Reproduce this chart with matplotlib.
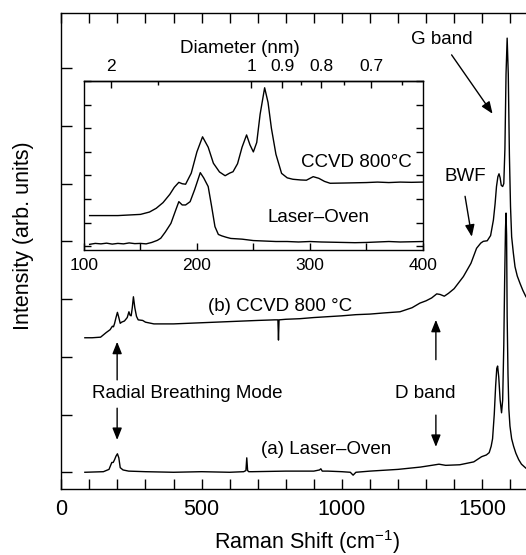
import numpy as np
import matplotlib
matplotlib.use("Agg")
import matplotlib.pyplot as plt
from matplotlib.ticker import MultipleLocator, FixedLocator

plt.rcParams['font.family'] = ['Liberation Sans', 'DejaVu Sans']
plt.rcParams['mathtext.fontset'] = 'custom'
plt.rcParams['mathtext.rm'] = 'Liberation Sans'

# ---------------- main spectra (Raman shift cm-1, intensity arb. units) ----------------
laser_x = [84, 150, 170, 180, 185, 190, 195, 200, 205, 210, 220, 240, 300, 400, 500, 600,
           650, 658, 661, 664, 668, 680, 800, 900, 920, 925, 930, 950, 1000, 1030, 1040,
           1050, 1100, 1200, 1280, 1320, 1346, 1370, 1420, 1470, 1498, 1515, 1525, 1532,
           1537, 1543, 1548, 1552, 1555, 1559, 1564, 1569, 1573, 1577, 1580, 1583, 1585,
           1587, 1589, 1592, 1595, 1599, 1605, 1612, 1620, 1630, 1640, 1656, 1700]
laser_y = [0.00, 0.01, 0.05, 0.17, 0.17, 0.22, 0.28, 0.32, 0.25, 0.08, 0.04, 0.02, 0.01, 0.00,
           0.01, 0.00, 0.01, 0.03, 0.25, 0.03, 0.01, 0.01, 0.02, 0.02, 0.04, 0.06, 0.02, 0.02,
           0.01, 0.00, -0.05, 0.00, 0.02, 0.05, 0.09, 0.12, 0.14, 0.12, 0.13, 0.18, 0.27, 0.30,
           0.34, 0.45, 0.58, 1.00, 1.50, 1.80, 1.84, 1.65, 1.25, 1.03, 1.25, 2.20, 3.30, 4.20,
           4.49, 4.10, 2.70, 1.70, 1.10, 0.80, 0.58, 0.45, 0.33, 0.22, 0.14, 0.07, 0.02]

ccvd_x = [84, 110, 140, 160, 174, 182, 186, 190, 195, 200, 205, 210, 215, 225, 235, 241, 245,
          249, 253, 257, 262, 268, 274, 290, 300, 330, 400, 500, 600, 700, 760, 772, 774, 776,
          800, 850, 900, 1000, 1050, 1100, 1150, 1207, 1250, 1278, 1300, 1320, 1338, 1350,
          1365, 1380, 1400, 1433, 1460, 1480, 1495, 1504, 1518, 1530, 1540, 1546, 1551, 1556,
          1560, 1564, 1568, 1573, 1577, 1581, 1585, 1589, 1593, 1597, 1601, 1605, 1611, 1617,
          1625, 1635, 1645, 1656, 1700]
ccvd_y = [2.33, 2.33, 2.34, 2.42, 2.47, 2.53, 2.52, 2.58, 2.68, 2.77, 2.68, 2.58, 2.60, 2.62,
          2.68, 2.78, 2.72, 2.71, 2.85, 3.04, 2.85, 2.70, 2.64, 2.63, 2.60, 2.57, 2.57, 2.59,
          2.61, 2.63, 2.64, 2.64, 2.29, 2.64, 2.65, 2.66, 2.68, 2.71, 2.73, 2.74, 2.76, 2.78,
          2.85, 2.93, 2.97, 3.02, 3.09, 3.08, 3.05, 3.10, 3.18, 3.39, 3.62, 3.88, 3.97, 4.00,
          4.01, 4.10, 4.37, 4.65, 4.95, 5.12, 5.17, 5.10, 4.97, 4.95, 5.00, 5.60, 6.90, 7.52,
          6.90, 5.50, 4.60, 4.08, 3.80, 3.56, 3.40, 3.27, 3.15, 3.04, 2.80]

# ---------------- inset (RBM region) ----------------
in_ccvd_x = [105, 130, 150, 158, 164, 170, 176, 180, 184, 187, 190, 195, 200, 205, 210, 214.6,
             220, 225, 229, 232, 236, 240, 244, 247, 250, 253, 256, 260, 263, 266, 270, 275,
             280, 285, 292, 297, 303, 308, 313, 318, 330, 350, 360, 370, 380, 390, 400]
in_ccvd_y = [1.30, 1.30, 1.35, 1.45, 1.61, 1.85, 2.20, 2.50, 2.71, 2.65, 2.63, 3.10, 4.00, 4.64,
             4.20, 3.52, 3.15, 2.99, 3.10, 3.16, 3.50, 4.20, 4.72, 4.30, 4.00, 4.40, 5.60, 6.72,
             6.10, 5.00, 3.90, 3.09, 2.90, 2.84, 2.81, 2.80, 2.95, 2.88, 2.75, 2.67, 2.68, 2.70,
             2.72, 2.70, 2.72, 2.71, 2.72]

in_laser_x = [105, 110, 115, 120, 125, 130, 135, 140, 145, 150, 155, 160, 165, 168, 172, 177,
              181, 184, 187, 190, 194, 198, 203, 206, 210, 213, 216, 219, 222, 226, 230, 240,
              250, 260, 270, 280, 290, 300, 310, 320, 330, 340, 350, 360, 370, 380, 390, 400]
in_laser_y = [0.08, 0.12, 0.10, 0.13, 0.09, 0.12, 0.10, 0.14, 0.11, 0.12, 0.10, 0.16, 0.25, 0.34,
              0.60, 0.97, 1.50, 1.89, 1.75, 1.75, 1.89, 2.40, 3.12, 2.90, 2.53, 1.70, 0.83, 0.50,
              0.44, 0.38, 0.33, 0.30, 0.24, 0.22, 0.20, 0.20, 0.18, 0.20, 0.18, 0.17, 0.16, 0.15,
              0.16, 0.18, 0.20, 0.18, 0.19, 0.20]

main_xticks = [0, 500, 1000, 1500]
inset_xticks = [100, 200, 300, 400]
diam_major = [2, 1, 0.9, 0.8, 0.7]
diam_minor = [1.5, 0.85, 0.75, 0.65]
RBM_CONST = 248.0  # omega = 248 / d

W, H = 526, 555
fig = plt.figure(figsize=(W / 100, H / 100), dpi=100)

# main axes (extends past the right edge, as in the reference)
ax = fig.add_axes([61.3 / W, (H - 489.3) / H, 477.0 / W, (489.3 - 13.3) / H])
ax.plot(laser_x, laser_y, color='black', lw=1.0)
ax.plot(ccvd_x, ccvd_y, color='black', lw=1.0)
ax.set_xlim(0, 1700)
ax.set_ylim(-0.295, 7.95)
ax.set_xticks(main_xticks)
ax.set_xticklabels([str(t) for t in main_xticks])
ax.xaxis.set_minor_locator(MultipleLocator(100))
ax.set_yticks(range(0, 8))
ax.set_yticklabels([])
ax.tick_params(axis='both', which='both', direction='in', top=True, right=True,
               width=1.0, labelsize=15.5)
ax.tick_params(axis='x', which='both', length=7, pad=7)
ax.tick_params(axis='y', which='both', length=8)
for s in ax.spines.values():
    s.set_linewidth(1.0)

fig.text(307 / W, 1 - 549 / H, 'Raman Shift (cm$^{\\mathregular{-1}}$)', fontsize=15.5,
         ha='center', va='baseline')
fig.text(24 / W, 1 - 236 / H, 'Intensity (arb. units)', fontsize=15.5, rotation=90,
         ha='center', va='center')

arrow = dict(arrowstyle='-|>,head_length=0.55,head_width=0.22', color='black', lw=1.0,
             mutation_scale=13, shrinkA=0, shrinkB=0)
TXT = 13.5
ax.text(1357, 7.49, 'G band', fontsize=TXT, ha='center', va='center')
ax.annotate('', xy=(1537, 6.21), xytext=(1391, 7.23), arrowprops=arrow)
ax.text(1441, 5.12, 'BWF', fontsize=TXT, ha='center', va='center')
ax.annotate('', xy=(1463, 4.08), xytext=(1439, 4.78), arrowprops=arrow)
ax.text(778, 2.87, '(b) CCVD 800 \u00b0C', fontsize=TXT, ha='center', va='center')
ax.text(450, 1.36, 'Radial Breathing Mode', fontsize=TXT, ha='center', va='center')
ax.annotate('', xy=(199, 2.26), xytext=(199, 1.60), arrowprops=arrow)
ax.annotate('', xy=(199, 0.56), xytext=(199, 1.11), arrowprops=arrow)
ax.text(1298, 1.36, 'D band', fontsize=TXT, ha='center', va='center')
ax.annotate('', xy=(1335, 2.64), xytext=(1335, 1.95), arrowprops=arrow)
ax.annotate('', xy=(1335, 0.44), xytext=(1335, 0.99), arrowprops=arrow)
ax.text(943, 0.39, '(a) Laser\u2013Oven', fontsize=TXT, ha='center', va='center')

# inset
axi = fig.add_axes([84 / W, (H - 250) / H, 338.7 / W, 169.3 / H])
axi.set_facecolor('white')
axi.plot(in_laser_x, in_laser_y, color='black', lw=1.0)
axi.plot(in_ccvd_x, in_ccvd_y, color='black', lw=1.0)
axi.set_xlim(100, 400)
axi.set_ylim(-0.16, 7.02)
axi.set_xticks(inset_xticks)
axi.set_xticklabels([str(t) for t in inset_xticks])
axi.xaxis.set_minor_locator(MultipleLocator(50))
axi.set_yticks(range(0, 8))
axi.set_yticklabels([])
axi.tick_params(axis='both', which='both', direction='in', top=False, right=True,
                width=1.0, length=5, labelsize=12.5)
axi.tick_params(axis='x', which='both', pad=6)
for s in axi.spines.values():
    s.set_linewidth(1.0)

sec = axi.secondary_xaxis('top')
sec.set_xticks([RBM_CONST / d for d in diam_major])
sec.set_xticklabels(['%g' % d for d in diam_major])
sec.xaxis.set_minor_locator(FixedLocator([RBM_CONST / d for d in diam_minor]))
sec.tick_params(axis='x', which='both', direction='in', width=1.0, labelsize=12.5, pad=5)
sec.tick_params(axis='x', which='major', length=5)
sec.tick_params(axis='x', which='minor', length=3)
sec.spines['top'].set_linewidth(1.0)

axi.text(0.46, 1.193, 'Diameter (nm)', transform=axi.transAxes, fontsize=TXT,
         ha='center', va='center')
axi.text(341.4, 3.53, 'CCVD 800\u00b0C', fontsize=TXT, ha='center', va='center')
axi.text(307.7, 1.20, 'Laser\u2013Oven', fontsize=TXT, ha='center', va='center')

fig.savefig('out.png', dpi=100)
